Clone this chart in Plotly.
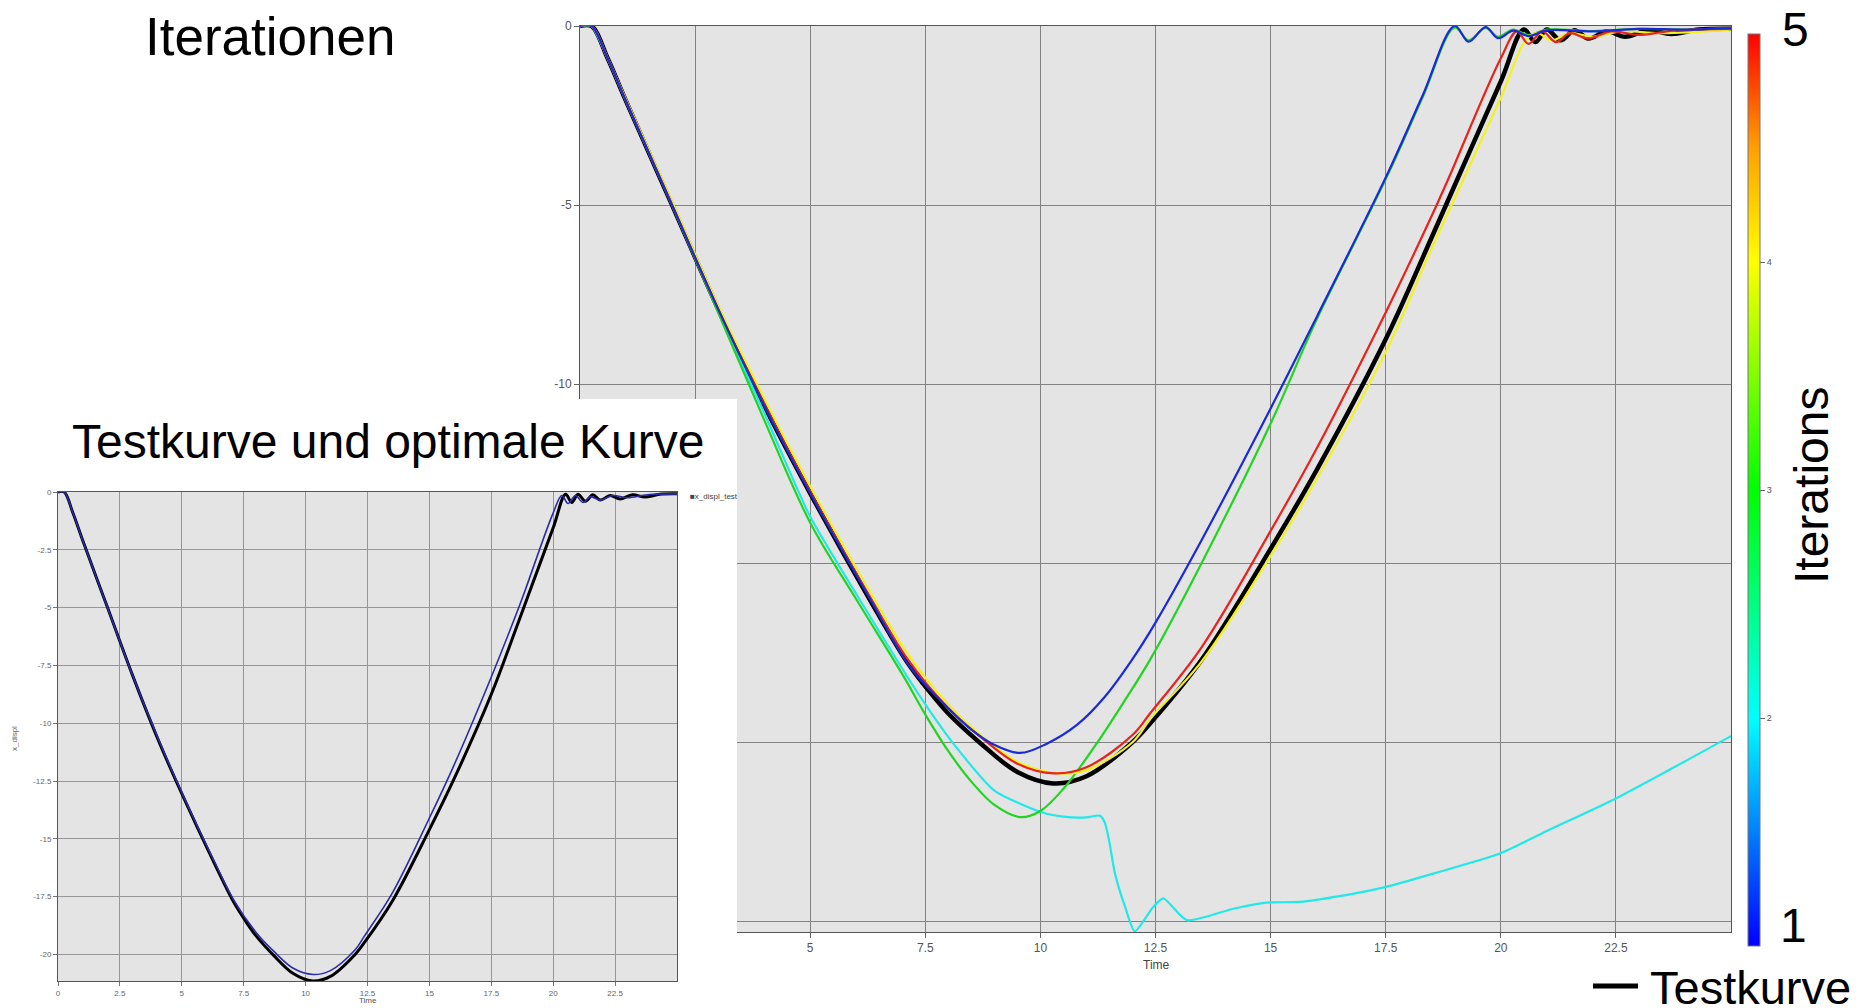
import plotly.graph_objects as go

# ---------------- data ----------------
# Test curve (black, "Testkurve")
t_test = [0, 0.25, 0.6, 1, 2, 3, 4, 5, 6.3, 7.1, 7.6, 8, 8.69, 9.5, 10.28, 11, 12, 12.4,
          13.5, 15, 16, 17.5, 18.5, 19.05, 20, 20.5, 20.75, 21.0, 21.3, 21.6, 21.9, 22.3,
          22.7, 23.2, 23.7, 24.3, 25]
y_test = [0, 0, -0.9, -2.1, -5.0, -7.9, -10.6, -13.05, -16.03, -17.75, -18.6, -19.2, -20.02,
          -20.83, -21.15, -20.95, -20.0, -19.45, -17.7, -14.6, -12.4, -8.75, -5.9, -4.3, -1.55,
          -0.1, -0.45, -0.1, -0.4, -0.12, -0.35, -0.15, -0.3, -0.12, -0.22, -0.1, -0.08]

# Iteration 1 (blue)
t_it1 = [0, 0.25, 0.6, 1, 2, 3, 4, 5, 6.3, 7.17, 8.0, 8.5, 8.95, 9.56, 10.14, 10.8, 11.4,
         12.0, 12.5, 13.5, 15, 16, 17.53, 18.3, 19.0, 19.3, 19.67, 19.94, 20.27, 20.6, 21,
         22, 23, 24, 25]
y_it1 = [0, 0, -0.9, -2.1, -5.0, -7.9, -10.6, -13.05, -16.0, -17.9, -19.05, -19.65, -20.04,
         -20.3, -20.04, -19.51, -18.73, -17.68, -16.66, -14.36, -10.68, -8.13, -4.15, -1.95,
         0, -0.44, -0.03, -0.34, -0.13, -0.28, -0.12, -0.15, -0.08, -0.1, -0.06]

# Iteration 2 (cyan)
t_it2 = [0, 0.25, 0.6, 1, 2, 3, 4, 5, 6.08, 7.0, 7.53, 8.11, 9, 10.01, 10.5, 11.0, 11.29,
         11.4, 11.5, 11.62, 11.84, 12.05, 12.45, 12.67, 13.18, 14.19, 14.92, 15.64, 16.5,
         17.51, 18.53, 19.98, 21.03, 22.5, 25]
y_it2 = [0, 0, -0.9, -2.1, -5.0, -7.95, -10.8, -13.7, -16.03, -17.95, -19.0, -20.04, -21.35,
         -21.95, -22.08, -22.1, -22.05, -22.25, -22.8, -23.67, -24.6, -25.28, -24.6, -24.36,
         -24.97, -24.65, -24.48, -24.46, -24.3, -24.04, -23.67, -23.11, -22.46, -21.57, -19.83]

# Iteration 3 (green)
t_it3 = [0, 0.25, 0.6, 1, 2, 3, 4, 5, 6.01, 7.0, 7.53, 8.0, 8.5, 9.0, 9.56, 10.0, 10.5,
         11.22, 11.8, 12.38, 13.5, 15, 16, 17.53, 18.3, 19.0, 19.3, 19.67, 19.94, 20.27,
         20.6, 21, 22, 23, 24, 25]
y_it3 = [0, 0, -0.9, -2.1, -5.0, -8.0, -11.0, -13.87, -16.03, -18.1, -19.29, -20.25, -21.1,
         -21.75, -22.09, -21.92, -21.3, -20.04, -18.9, -17.7, -15.0, -11.1, -8.2, -4.2,
         -2.0, -0.05, -0.4, -0.05, -0.3, -0.1, -0.25, -0.1, -0.14, -0.08, -0.1, -0.06]

# Iteration 4 (yellow)
t_it4 = [0, 0.25, 0.6, 1, 2, 3, 4, 5, 6.3, 7.1, 8, 8.7, 9.5, 10.4, 11, 12, 12.4, 13.5, 15,
         16, 17.5, 18.5, 19.18, 20, 20.57, 20.8, 21.1, 21.5, 22, 22.6, 23.5, 25]
y_it4 = [0, 0, -0.9, -2.05, -4.9, -7.8, -10.4, -12.85, -15.8, -17.5, -18.95, -19.8, -20.55,
         -20.87, -20.78, -20.0, -19.33, -17.75, -14.8, -12.65, -9.1, -6.2, -4.3, -2.0, -0.34,
         -0.2, -0.4, -0.2, -0.3, -0.15, -0.2, -0.1]

# Iteration 5 (red) = optimal curve
t_it5 = [0, 0.25, 0.6, 1, 2, 3, 4, 5, 6.3, 7.1, 8, 8.7, 9.5, 10.3, 11, 12, 12.38, 13.5, 15,
         16, 17.5, 18.5, 18.85, 20, 20.35, 20.6, 20.9, 21.2, 21.5, 21.9, 22.4, 23, 23.8, 25]
y_it5 = [0, 0, -0.9, -2.1, -5.0, -7.9, -10.55, -13.0, -15.95, -17.65, -19.05, -19.85, -20.6,
         -20.87, -20.7, -19.8, -19.2, -17.35, -14.1, -11.8, -8.0, -5.3, -4.3, -0.9, -0.15,
         -0.5, -0.15, -0.45, -0.2, -0.35, -0.15, -0.25, -0.12, -0.08]

iter_names = ["1", "2", "3", "4", "5"]
iter_colors = ["#1a2ad6", "#22e8e8", "#22d422", "#f2f21a", "#e8231e"]
iter_smooth = [1.0, 0.6, 1.0, 1.0, 1.0]

main_xticks = [0, 2.5, 5, 7.5, 10, 12.5, 15, 17.5, 20, 22.5]
main_xlabels = ["0", "2.5", "5", "7.5", "10", "12.5", "15", "17.5", "20", "22.5"]
main_yticks = [0, -5, -10, -15, -20, -25]
main_ylabels = ["0", "-5", "-10", "-15", "-20", "-25"]
inset_yticks = [0, -2.5, -5, -7.5, -10, -12.5, -15, -17.5, -20]
inset_ylabels = ["0", "-2.5", "-5", "-7.5", "-10", "-12.5", "-15", "-17.5", "-20"]
cbar_ticks = [2, 3, 4]
cbar_labels = ["2", "3", "4"]

# the page body adds an 8px margin, so the figure is 8px smaller and every
# window-pixel position is shifted by 8px
OFF = 8
W, H = 1868 - OFF, 1008 - OFF
FONT = "Liberation Sans, Arial, sans-serif"


def px(x):
    return (x - OFF) / W


def py(y):
    return 1 - (y - OFF) / H


fig = go.Figure()

# ---------------- main chart (x / y) ----------------
fig.add_trace(go.Scatter(x=t_test, y=y_test, mode="lines", name="Testkurve",
                         line=dict(color="black", width=4.5, shape="spline", smoothing=1.0),
                         xaxis="x", yaxis="y", showlegend=False))
order = [1, 2, 3, 4, 0]
series = [(t_it1, y_it1), (t_it2, y_it2), (t_it3, y_it3), (t_it4, y_it4), (t_it5, y_it5)]
for i in order:
    tx, ty = series[i]
    fig.add_trace(go.Scatter(x=tx, y=ty, mode="lines", name="Iteration " + iter_names[i],
                             line=dict(color=iter_colors[i], width=2.2, shape="spline",
                                       smoothing=iter_smooth[i]),
                             xaxis="x", yaxis="y", showlegend=False))

# colour bar carrier
fig.add_trace(go.Scatter(
    x=[None, None], y=[None, None], mode="markers", xaxis="x", yaxis="y", showlegend=False,
    marker=dict(color=[1, 5], cmin=1, cmax=5, showscale=True,
                colorscale=[[0, "#0000ff"], [0.25, "#00ffff"], [0.5, "#00ff00"],
                            [0.75, "#ffff00"], [0.875, "#ffa000"], [1, "#ff0000"]],
                colorbar=dict(x=px(1748), xanchor="left", y=py((34 + 946) / 2),
                              yanchor="middle", len=(946 - 34) / H, lenmode="fraction",
                              thickness=12, outlinewidth=1, outlinecolor="#777",
                              xpad=0, ypad=0, tickvals=cbar_ticks, ticktext=cbar_labels,
                              ticks="outside", ticklen=5, tickcolor="#666",
                              tickfont=dict(size=9, color="#555", family=FONT)))))

# ---------------- cover subplot (x2 / y2) ----------------
fig.add_trace(go.Scatter(x=[None], y=[None], xaxis="x2", yaxis="y2", showlegend=False))

# ---------------- inset chart (x3 / y3) ----------------
fig.add_trace(go.Scatter(x=t_test, y=y_test, mode="lines", name="x_displ_test",
                         line=dict(color="black", width=3, shape="spline", smoothing=1.0),
                         xaxis="x3", yaxis="y3", showlegend=False))
fig.add_trace(go.Scatter(x=t_it5, y=y_it5, mode="lines", name="optimal",
                         line=dict(color="#2b2ba8", width=1.6, shape="spline", smoothing=1.0),
                         xaxis="x3", yaxis="y3", showlegend=False))

axis_common = dict(showline=True, mirror=True, linecolor="#555", linewidth=1, zeroline=False,
                   automargin=False)

fig.update_layout(
    width=W, height=H, margin=dict(l=0, r=0, t=0, b=0, autoexpand=False),
    paper_bgcolor="white", plot_bgcolor="#e4e4e4",
    font=dict(family=FONT, color="black"),
    xaxis=dict(domain=[px(580), px(1731)], range=[0, 25], tickvals=main_xticks,
               ticktext=main_xlabels, ticks="outside", ticklen=5, tickcolor="#666",
               tickfont=dict(size=12, color="#555"), showgrid=True, gridcolor="#828282",
               gridwidth=1, anchor="y", **axis_common),
    yaxis=dict(domain=[py(932), py(26)], range=[-25.3, 0], tickvals=main_yticks,
               ticktext=main_ylabels, ticks="outside", ticklen=5, tickcolor="#666",
               tickfont=dict(size=12, color="#555"), showgrid=True, gridcolor="#828282",
               gridwidth=1, anchor="x", **axis_common),
    xaxis2=dict(domain=[0, px(737)], range=[0, 1], visible=False, anchor="y2",
                automargin=False),
    yaxis2=dict(domain=[0, py(399)], range=[0, 1], visible=False, anchor="x2",
                automargin=False),
    xaxis3=dict(domain=[px(58), px(677)], range=[0, 25], tickvals=main_xticks,
                ticktext=main_xlabels, ticks="outside", ticklen=4, tickcolor="#777",
                tickfont=dict(size=8, color="#666"), showgrid=True, gridcolor="#969696",
                gridwidth=1, anchor="y3", **axis_common),
    yaxis3=dict(domain=[py(981), py(492)], range=[-21.15, 0], tickvals=inset_yticks,
                ticktext=inset_ylabels, ticks="outside", ticklen=4, tickcolor="#777",
                tickfont=dict(size=8, color="#666"), showgrid=True, gridcolor="#969696",
                gridwidth=1, anchor="x3", **axis_common),
)

# white cover drawn inside the cover subplot (hides part of the main chart)
fig.add_shape(type="rect", xref="x2", yref="y2", x0=0, x1=1, y0=0, y1=1, layer="below",
              fillcolor="white", line=dict(width=0))

# legend line for Testkurve
fig.add_shape(type="line", xref="paper", yref="paper", x0=px(1593), x1=px(1638),
              y0=py(986), y1=py(986), line=dict(color="black", width=5), layer="above")

ann = [
    dict(text="Iterationen", x=px(270), y=py(36), size=53, anchor="center"),
    dict(text="Testkurve und optimale Kurve", x=px(388), y=py(441), size=48, anchor="center"),
    dict(text="Time", x=px(1156), y=py(965), size=12, anchor="center", color="#444"),
    dict(text="Time", x=px(368), y=py(1000), size=8, anchor="center", color="#555"),
    dict(text="■x_displ_test", x=px(688), y=py(496), size=8, anchor="left", color="#444"),
    dict(text="5", x=px(1795), y=py(29), size=48, anchor="center"),
    dict(text="1", x=px(1793), y=py(925), size=48, anchor="center"),
    dict(text="Testkurve", x=px(1648), y=py(987), size=47, anchor="left"),
]
for a in ann:
    fig.add_annotation(text=a["text"], x=a["x"], y=a["y"], xref="paper", yref="paper",
                       showarrow=False, xanchor=a["anchor"], yanchor="middle",
                       font=dict(size=a["size"], color=a.get("color", "black"), family=FONT))

fig.add_annotation(text="Iterations", x=px(1811), y=py(486), xref="paper", yref="paper",
                   showarrow=False, textangle=-90, xanchor="center", yanchor="middle",
                   font=dict(size=48, color="black", family=FONT))
fig.add_annotation(text="x_displ", x=px(14), y=py(739), xref="paper", yref="paper",
                   showarrow=False, textangle=-90, xanchor="center", yanchor="middle",
                   font=dict(size=8, color="#666", family=FONT))

fig.write_html("out.html")
